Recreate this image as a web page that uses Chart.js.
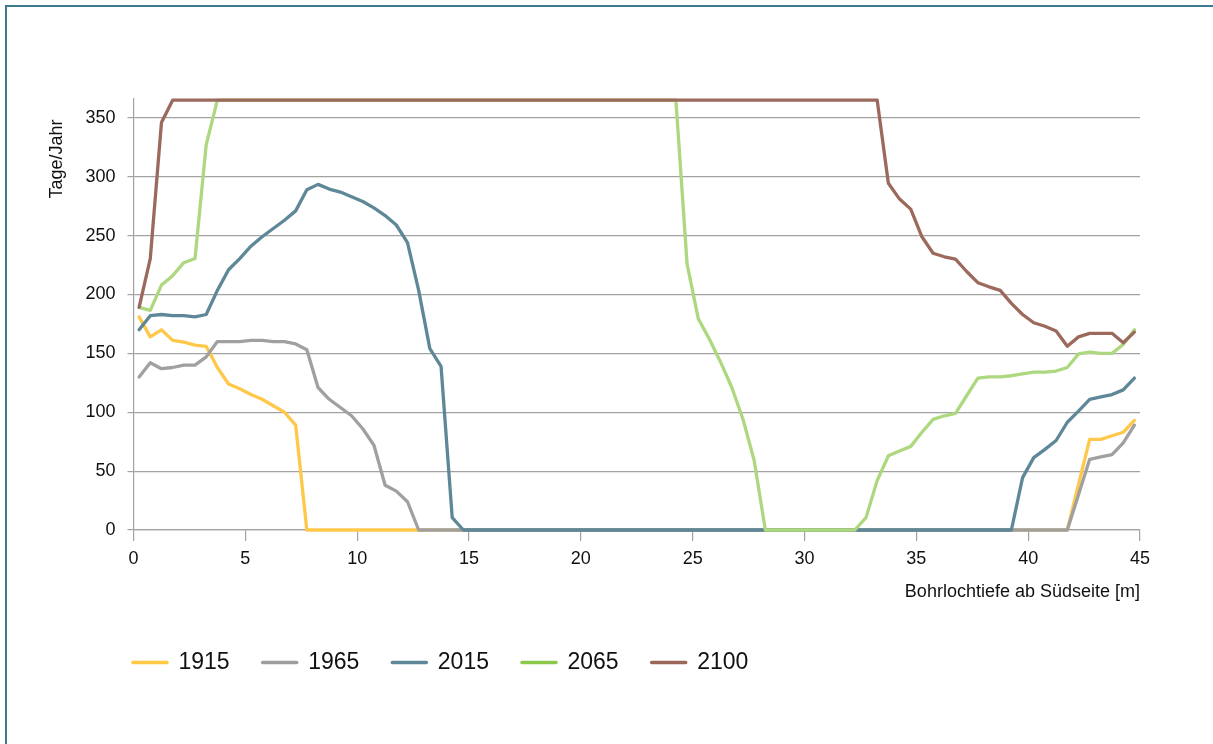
<!DOCTYPE html>
<html>
<head>
<meta charset="utf-8">
<script src="https://cdn.jsdelivr.net/npm/chart.js@4.4.1/dist/chart.umd.min.js"></script>
<style>
  html, body { margin: 0; padding: 0; background: #fff; overflow: hidden; }
  #frame { position: absolute; left: 5px; top: 5px; width: 1400px; height: 1000px; border: 2px solid #3b7a91; }
  #wrap { position: absolute; left: 0; top: 0; width: 1213px; height: 744px; }
</style>
</head>
<body>
<div id="frame"></div>
<div id="wrap"><canvas id="chart" width="1213" height="744"></canvas></div>
<script>
// Tage/Jahr per Bohrlochtiefe (only the vertices of each line)
const seriesNames = ["1915", "1965", "2015", "2065", "2100"];

const depth1915 = [0.25, 0.75, 1.25, 1.75, 2.25, 2.75, 3.25, 3.75, 4.25, 4.75, 5.25, 5.75, 6.25, 6.75, 7.25, 7.75,
  41.75, 42.25, 42.75, 43.25, 43.75, 44.25, 44.75];
const days1915 = [181, 164, 170, 161, 159.5, 157, 156, 138, 124, 120, 115, 111, 105.5, 100, 89, 0,
  0, 38.5, 77, 77, 80, 83, 93];

const depth1965 = [0.25, 0.75, 1.25, 1.75, 2.25, 2.75, 3.25, 3.75, 4.25, 4.75, 5.25, 5.75, 6.25, 6.75, 7.25, 7.75,
  8.25, 8.75, 9.25, 9.75, 10.25, 10.75, 11.25, 11.75, 12.25, 12.75,
  41.75, 42.25, 42.75, 43.25, 43.75, 44.25, 44.75];
const days1965 = [130, 142, 137, 138, 140, 140, 147, 160, 160, 160, 161, 161, 160, 160, 158, 153,
  121, 111, 104, 97, 86, 72, 38, 33, 24, 0,
  0, 30, 60, 62, 64, 74, 89];

const depth2015 = [0.25, 0.75, 1.25, 1.75, 2.25, 2.75, 3.25, 3.75, 4.25, 4.75, 5.25, 5.75, 6.25, 6.75, 7.25, 7.75,
  8.25, 8.75, 9.25, 9.75, 10.25, 10.75, 11.25, 11.75, 12.25, 12.75, 13.25, 13.75, 14.25, 14.75,
  39.25, 39.75, 40.25, 40.75, 41.25, 41.75, 42.25, 42.75, 43.25, 43.75, 44.25, 44.75];
const days2015 = [170, 182, 183, 182, 182, 181, 183, 203.5, 221, 230.5, 241, 249, 256, 263, 271, 289,
  293.5, 289.5, 287, 283, 279, 273.5, 267, 259, 244, 203.5, 154, 139, 10.5, 0,
  0, 44.5, 61.5, 68.5, 76, 91.5, 101, 111, 113, 115, 119, 129];

const depth2065 = [0.25, 0.75, 1.25, 1.75, 2.25, 2.75, 3.25, 3.75,
  24.25, 24.75, 25.25, 25.75, 26.25, 26.75, 27.25, 27.75, 28.25,
  32.25, 32.75, 33.25, 33.75, 34.25, 34.75, 35.25, 35.75, 36.25, 36.75, 37.25, 37.75, 38.25, 38.75,
  39.25, 39.75, 40.25, 40.75, 41.25, 41.75, 42.25, 42.75, 43.25, 43.75, 44.25, 44.75];
const days2065 = [189, 186.5, 208, 216, 227, 230.5, 327, 365,
  365, 226, 179.5, 162, 142.5, 121, 94, 59, 0,
  0, 10.5, 42, 63, 67, 71, 83, 94, 97, 99, 114, 129, 130, 130,
  131, 132.5, 134, 134, 135, 138, 149.5, 151, 150, 150, 157.5, 170];

const depth2100 = [0.25, 0.75, 1.25, 1.75,
  33.25, 33.75, 34.25, 34.75, 35.25, 35.75, 36.25, 36.75, 37.25, 37.75, 38.25, 38.75,
  39.25, 39.75, 40.25, 40.75, 41.25, 41.75, 42.25, 42.75, 43.25, 43.75, 44.25, 44.75];
const days2100 = [189, 230.5, 346, 365,
  365, 294.5, 281, 272.5, 249, 235, 232, 230, 219.5, 210, 206.5, 203.5,
  192.5, 183, 176, 173, 169, 156, 164, 167, 167, 167, 159, 168];

const xTickValues = [0, 5, 10, 15, 20, 25, 30, 35, 40, 45];
const yTickValues = [0, 50, 100, 150, 200, 250, 300, 350];

const lineColors = ["#ffc84a", "#a0a0a0", "#5e8797", "#aed87f", "#9c695d"];
const legendColors = ["#ffc845", "#9c9c9c", "#5e8797", "#8cc84b", "#9b665a"];

const xTitle = "Bohrlochtiefe ab Südseite [m]";
const yTitle = "Tage/Jahr";

const fontFamily = '"Liberation Sans", Arial, sans-serif';
const gridColor = "#a2a2a2";

const depths = [depth1915, depth1965, depth2015, depth2065, depth2100];
const days = [days1915, days1965, days2015, days2065, days2100];

const datasets = seriesNames.map((name, i) => ({
  label: name,
  data: depths[i].map((d, j) => ({ x: d, y: days[i][j] })),
  borderColor: lineColors[i],
  backgroundColor: lineColors[i],
  borderWidth: 3.3,
  borderCapStyle: "round",
  borderJoinStyle: "round",
  pointRadius: 0,
  tension: 0,
  clip: false,
  order: seriesNames.length - i  // later years drawn on top
}));

// y title sits near the top of the axis, not centred, so it is drawn by hand
const yTitlePlugin = {
  id: "yTitle",
  afterDraw(chart) {
    const ctx = chart.ctx;
    ctx.save();
    ctx.translate(57, 159);
    ctx.rotate(-Math.PI / 2);
    ctx.font = "18px " + fontFamily;
    ctx.fillStyle = "#111";
    ctx.textAlign = "center";
    ctx.textBaseline = "middle";
    ctx.fillText(yTitle, 0, 0);
    ctx.restore();
  }
};

// legend row starts under the plot, not at the canvas edge
const legendShift = {
  id: "legendShift",
  afterLayout(chart) {
    if (chart.legend) chart.legend.left = 100;
  }
};

const ctx = document.getElementById("chart").getContext("2d");

new Chart(ctx, {
  type: "line",
  data: { datasets: datasets },
  plugins: [yTitlePlugin, legendShift],
  options: {
    responsive: false,
    animation: false,
    layout: { padding: { left: 0, right: 73, top: 99, bottom: 60 } },
    plugins: {
      tooltip: { enabled: false },
      legend: {
        position: "bottom",
        align: "start",
        labels: {
          usePointStyle: true,
          pointStyle: "line",
          pointStyleWidth: 34,
          padding: 33,
          color: "#111",
          font: { family: fontFamily, size: 23 },
          generateLabels(chart) {
            const items = Chart.defaults.plugins.legend.labels.generateLabels(chart);
            items.forEach(it => {
              it.strokeStyle = legendColors[it.datasetIndex];
              it.fillStyle = legendColors[it.datasetIndex];
              it.lineWidth = 3.5;
              it.lineCap = "round";
            });
            return items;
          },
          sort: (a, b) => a.datasetIndex - b.datasetIndex
        }
      }
    },
    scales: {
      x: {
        type: "linear",
        min: 0,
        max: 45,
        afterBuildTicks: s => { s.ticks = xTickValues.map(v => ({ value: v })); },
        afterFit: s => { s.height = 88; },
        grid: { drawOnChartArea: false, drawTicks: true, tickLength: 11, color: gridColor, lineWidth: 1.2 },
        border: { color: gridColor, width: 1.2 },
        ticks: { color: "#111", padding: 7, maxRotation: 0, font: { family: fontFamily, size: 18 } },
        title: {
          display: true,
          text: xTitle,
          align: "end",
          color: "#111",
          padding: { top: 4, bottom: 15 },
          font: { family: fontFamily, size: 18 }
        }
      },
      y: {
        min: 0,
        max: 366,
        afterBuildTicks: s => { s.ticks = yTickValues.map(v => ({ value: v })); },
        afterFit: s => { s.width = 133.5; },
        grid: { color: gridColor, lineWidth: 1.2, tickLength: 6 },
        border: { color: gridColor, width: 1.2 },
        ticks: { color: "#111", padding: 12, font: { family: fontFamily, size: 18 } }
      }
    }
  }
});
</script>
</body>
</html>
